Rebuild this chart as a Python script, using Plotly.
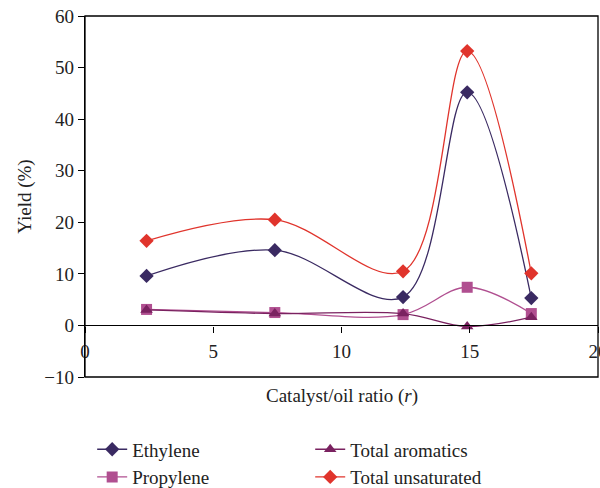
import plotly.graph_objects as go

# catalyst/oil ratio
ratio = [2.4, 7.4, 12.4, 14.9, 17.4]

ethylene = [9.6, 14.6, 5.5, 45.2, 5.3]
propylene = [3.1, 2.5, 2.1, 7.4, 2.3]
aromatics = [3.0, 2.3, 2.3, -0.2, 1.6]
unsaturated = [16.4, 20.5, 10.5, 53.2, 10.1]

series = [
    # name, values, colour, symbol, legend
    ("Ethylene", ethylene, "#3a2a62", "diamond", "legend"),
    ("Propylene", propylene, "#b04f90", "square", "legend"),
    ("Total aromatics", aromatics, "#7a2260", "triangle-up", "legend2"),
    ("Total unsaturated", unsaturated, "#e0342c", "diamond", "legend2"),
]

FONT = "Liberation Serif"
TXT = dict(family=FONT, size=19, color="#222")


def create_figure():
    fig = go.Figure()

    for name, values, color, symbol, leg in series:
        fig.add_trace(
            go.Scatter(
                x=ratio,
                y=values,
                name=name,
                mode="lines+markers",
                line=dict(color=color, width=1.3, shape="spline", smoothing=1.0),
                marker=dict(color=color, symbol=symbol, size=11, line_width=0),
                legend=leg,
            )
        )

    # frame around the plot area
    fig.add_shape(
        type="rect", xref="paper", yref="paper", x0=0, x1=1, y0=0, y1=1,
        line=dict(color="black", width=1.3),
    )

    # x title placed by hand, the x axis itself sits on y = 0
    fig.add_annotation(
        text="Catalyst/oil ratio (<i>r</i>)",
        xref="paper", yref="paper", x=0.5, y=-0.017,
        xanchor="center", yanchor="top", showarrow=False, font=TXT,
    )

    fig.update_xaxes(
        range=[0, 20],
        tickvals=[0, 5, 10, 15, 20],
        anchor="free",
        position=10 / 70,
        showline=True,
        linecolor="black",
        linewidth=1.3,
        ticks="outside",
        ticklen=6,
        tickcolor="black",
        ticklabelstandoff=3,
        ticklabeloverflow="allow",
        showgrid=False,
        zeroline=False,
        automargin=False,
        tickfont=TXT,
    )
    fig.update_yaxes(
        range=[-10, 60],
        tickvals=[-10, 0, 10, 20, 30, 40, 50, 60],
        showline=True,
        linecolor="black",
        linewidth=1.3,
        ticks="outside",
        ticklen=6,
        tickcolor="black",
        ticklabeloverflow="allow",
        showgrid=False,
        zeroline=False,
        automargin=False,
        tickfont=TXT,
        title=dict(text="Yield (%)", font=TXT, standoff=7),
    )

    legend_style = dict(
        orientation="v",
        xanchor="left",
        yanchor="top",
        yref="container",
        font=TXT,
        bgcolor="rgba(0,0,0,0)",
        itemwidth=30,
        tracegroupgap=0,
    )

    fig.update_layout(
        width=600,
        height=488,
        margin=dict(l=85, r=2, t=16, b=111),
        plot_bgcolor="white",
        paper_bgcolor="white",
        font=TXT,
        legend=dict(x=0.014, y=0.118, **legend_style),
        legend2=dict(x=0.439, y=0.118, **legend_style),
    )
    return fig


if __name__ == "__main__":
    fig = create_figure()
    # page body has a default 8px margin, drop it so the figure fills the window
    fig.write_html(
        "out.html",
        config={"displayModeBar": False},
        post_script="document.body.style.margin = '0';",
    )
